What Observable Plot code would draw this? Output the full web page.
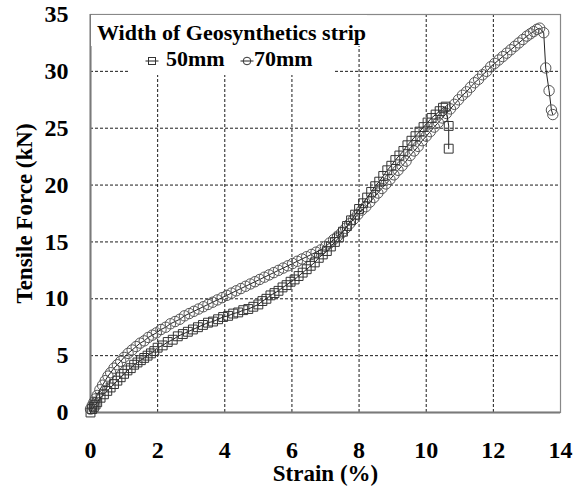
<!DOCTYPE html>
<html>
<head>
<meta charset="utf-8">
<script src="https://cdn.jsdelivr.net/npm/d3@7"></script>
<script src="https://cdn.jsdelivr.net/npm/@observablehq/plot@0.6"></script>
<style>
  html, body { margin: 0; padding: 0; background: #fff; }
  #wrap { position: relative; width: 582px; height: 490px; font-family: "Liberation Serif", "Times New Roman", serif; font-weight: bold; }
  .lg { position: absolute; background: #fff; }
  .lt { position: absolute; font-size: 22px; line-height: 22px; white-space: nowrap; color: #000; }
</style>
</head>
<body>
<div id="wrap"></div>
<script>
// ---- data ----
const legendTitle = "Width of Geosynthetics strip";
const seriesNames = ["50mm", "70mm"];
const xTicks = [0, 2, 4, 6, 8, 10, 12, 14];
const yTicks = [0, 5, 10, 15, 20, 25, 30, 35];
const xLabel = "Strain (%)";
const yLabel = "Tensile Force (kN)";

const strain50 = [0.00,0.05,0.10,0.15,0.20,0.30,0.40,0.50,0.60,0.70,0.80,0.90,1.00,1.10,1.20,1.30,1.40,1.50,1.60,1.70,1.80,1.90,2.00,2.15,2.30,2.45,2.60,2.75,2.90,3.05,3.20,3.35,3.50,3.65,3.80,3.95,4.10,4.25,4.40,4.55,4.70,4.85,5.00,5.12,5.24,5.36,5.48,5.60,5.72,5.84,5.96,6.08,6.20,6.32,6.44,6.56,6.68,6.80,6.92,7.04,7.16,7.28,7.40,7.52,7.64,7.76,7.88,8.00,8.12,8.24,8.36,8.48,8.60,8.72,8.84,8.96,9.08,9.20,9.32,9.44,9.56,9.68,9.80,9.92,10.04,10.16,10.28,10.40,10.50,10.58,10.67,10.67];
const force50 = [0.0,0.3,0.5,0.7,0.9,1.3,1.6,1.9,2.2,2.5,2.8,3.1,3.4,3.7,3.9,4.2,4.4,4.6,4.8,5.0,5.2,5.4,5.7,5.9,6.2,6.4,6.7,6.9,7.1,7.3,7.5,7.7,7.9,8.0,8.2,8.4,8.5,8.7,8.8,9.0,9.1,9.3,9.5,9.8,10.0,10.3,10.5,10.7,11.0,11.2,11.5,11.7,12.0,12.3,12.6,12.9,13.2,13.6,13.9,14.2,14.6,15.0,15.4,15.9,16.4,16.9,17.4,17.9,18.4,18.9,19.4,19.9,20.3,20.8,21.3,21.7,22.2,22.6,23.0,23.5,23.9,24.3,24.7,25.1,25.5,25.9,26.2,26.5,26.8,26.9,25.2,23.2];

const strain70 = [0.00,0.05,0.10,0.15,0.20,0.28,0.36,0.44,0.52,0.60,0.70,0.80,0.90,1.00,1.12,1.24,1.36,1.48,1.60,1.72,1.84,1.96,2.10,2.24,2.38,2.52,2.66,2.80,2.94,3.08,3.22,3.36,3.50,3.64,3.78,3.92,4.06,4.20,4.34,4.48,4.62,4.76,4.90,5.04,5.18,5.32,5.46,5.60,5.74,5.88,6.02,6.16,6.30,6.44,6.58,6.72,6.86,7.00,7.12,7.24,7.36,7.48,7.60,7.72,7.84,7.96,8.08,8.20,8.32,8.44,8.56,8.68,8.80,8.92,9.04,9.16,9.28,9.40,9.52,9.64,9.76,9.88,10.00,10.12,10.24,10.36,10.48,10.60,10.72,10.84,10.96,11.08,11.20,11.32,11.44,11.56,11.68,11.80,11.92,12.04,12.16,12.28,12.40,12.52,12.64,12.76,12.88,13.00,13.10,13.20,13.30,13.38,13.50,13.56,13.66,13.73,13.77];
const force70 = [0.3,0.6,0.9,1.2,1.5,2.0,2.4,2.8,3.2,3.5,3.9,4.2,4.5,4.85,5.2,5.5,5.8,6.1,6.3,6.6,6.8,7.0,7.3,7.5,7.8,8.0,8.2,8.5,8.7,8.9,9.1,9.3,9.5,9.7,9.9,10.1,10.3,10.5,10.7,10.9,11.1,11.3,11.5,11.7,11.9,12.1,12.3,12.5,12.7,12.9,13.1,13.3,13.5,13.7,13.9,14.1,14.3,14.6,14.9,15.2,15.5,15.8,16.2,16.6,17.0,17.4,17.8,18.1,18.5,18.9,19.3,19.7,20.1,20.5,20.9,21.3,21.7,22.1,22.6,23.0,23.4,23.9,24.3,24.7,25.1,25.5,25.9,26.3,26.7,27.1,27.5,27.9,28.2,28.6,29.0,29.3,29.7,30.0,30.4,30.7,31.0,31.3,31.6,31.9,32.2,32.5,32.8,33.1,33.3,33.5,33.7,33.8,33.4,30.3,28.3,26.6,26.2];

// ---- build tables ----
const d50 = strain50.map((s, i) => ({strain: s, force: force50[i]}));
const d70 = strain70.map((s, i) => ({strain: s, force: force70[i]}));
const gridXv = xTicks.filter(v => v > 0 && v < 14);
const gridYv = yTicks.filter(v => v > 0 && v < 35);

const chart = Plot.plot({
  width: 582,
  height: 490,
  marginLeft: 90,
  marginRight: 22,
  marginTop: 14,
  marginBottom: 78,
  style: {fontFamily: "Liberation Serif, Times New Roman, serif", fontSize: "24px", fontWeight: "bold", background: "#fff", color: "#000"},
  x: {domain: [0, 14], ticks: xTicks},
  y: {domain: [0, 35], ticks: yTicks},
  marks: [
    Plot.ruleX(gridXv, {stroke: "#000", strokeWidth: 0.9, strokeDasharray: "3,2"}),
    Plot.ruleY(gridYv, {stroke: "#000", strokeWidth: 0.9, strokeDasharray: "3,2"}),
    Plot.frame({stroke: "#888", strokeWidth: 1.2}),
    Plot.ruleX([0], {stroke: "#7a7a7a", strokeWidth: 2}),
    Plot.ruleY([0], {stroke: "#7a7a7a", strokeWidth: 2}),
    Plot.line(d70, {x: "strain", y: "force", stroke: "#222", strokeWidth: 1}),
    Plot.dot(d70, {x: "strain", y: "force", symbol: "circle", r: 5.2, stroke: "#555", strokeWidth: 1, fill: "none"}),
    Plot.line(d50, {x: "strain", y: "force", stroke: "#222", strokeWidth: 1}),
    Plot.dot(d50, {x: "strain", y: "force", symbol: "square", r: 5, stroke: "#333", strokeWidth: 1, fill: "none"}),
    Plot.axisX({ticks: xTicks, tickSize: 0, tickPadding: 28, label: null, fontSize: 24}),
    Plot.axisY({ticks: yTicks, tickSize: 0, tickPadding: 22, label: null, fontSize: 24}),
    Plot.text([xLabel], {frameAnchor: "bottom", textAnchor: "middle", lineAnchor: "middle", dy: 61, fontSize: 23}),
    Plot.text([yLabel], {frameAnchor: "left", textAnchor: "middle", lineAnchor: "middle", rotate: -90, dx: -66, fontSize: 23})
  ]
});

const wrap = document.getElementById("wrap");
wrap.appendChild(chart);

// ---- legend overlay ----
function box(l, t, w, h) {
  const d = document.createElement("div");
  d.className = "lg";
  Object.assign(d.style, {left: l + "px", top: t + "px", width: w + "px", height: h + "px"});
  wrap.appendChild(d);
}
function txt(s, l, t) {
  const d = document.createElement("div");
  d.className = "lt";
  d.textContent = s;
  Object.assign(d.style, {left: l + "px", top: t + "px"});
  wrap.appendChild(d);
}
function icon(kind, cx, cy) {
  const ns = "http://www.w3.org/2000/svg";
  const s = document.createElementNS(ns, "svg");
  s.setAttribute("width", 16); s.setAttribute("height", 12);
  Object.assign(s.style, {position: "absolute", left: (cx - 8) + "px", top: (cy - 6) + "px"});
  const ln = document.createElementNS(ns, "line");
  ln.setAttribute("x1", 1.5); ln.setAttribute("x2", 14.5); ln.setAttribute("y1", 6); ln.setAttribute("y2", 6);
  ln.setAttribute("stroke", "#222"); ln.setAttribute("stroke-width", 1);
  s.appendChild(ln);
  let m;
  if (kind === "square") {
    m = document.createElementNS(ns, "rect");
    m.setAttribute("x", 4.5); m.setAttribute("y", 2.5); m.setAttribute("width", 7); m.setAttribute("height", 7);
  } else {
    m = document.createElementNS(ns, "circle");
    m.setAttribute("cx", 8); m.setAttribute("cy", 6); m.setAttribute("r", 3.8);
  }
  m.setAttribute("fill", "none"); m.setAttribute("stroke", "#333"); m.setAttribute("stroke-width", 1);
  s.appendChild(m);
  wrap.appendChild(s);
}
box(91, 15, 276, 31);
box(130, 45, 203, 30);
txt(legendTitle, 97, 21.5);
icon("square", 152, 61);
txt(seriesNames[0], 166, 48);
icon("circle", 247, 61);
txt(seriesNames[1], 254, 48);
</script>
</body>
</html>
